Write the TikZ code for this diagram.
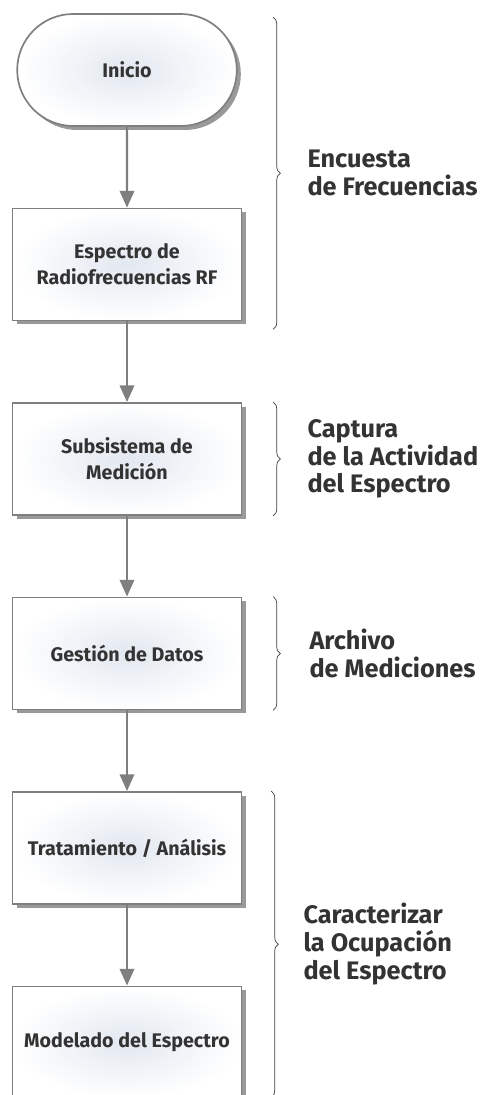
\documentclass[tikz,border=0pt]{standalone}
\usepackage{fontspec}
\setmainfont{Fira Sans}
\usetikzlibrary{positioning, shapes.misc, shadows, arrows.meta, decorations.pathreplacing}

\definecolor{textgray}{HTML}{333333}
\definecolor{linegray}{HTML}{7F7F7F}
\definecolor{fillblue}{HTML}{E2E8F0}

\begin{document}
\begin{tikzpicture}[
    node distance=2.02cm,
    block/.style={rectangle, draw=linegray, line width=1.2pt,
        minimum width=5.725cm, minimum height=2.8cm, align=center,
        font=\bfseries\fontsize{14}{18.5}\selectfont, text=textgray,
        shading=radial, inner color=fillblue, outer color=white,
        drop shadow={shadow xshift=0.1cm, shadow yshift=-0.1cm, fill=black!80}},
    startstop/.style={block, rounded rectangle},
    flow/.style={-{Triangle[width=0.36cm,length=0.42cm]}, line width=1.6pt, linegray},
    group_brace/.style={decorate, decoration={brace, amplitude=0.18cm}, draw=black!75, line width=0.5pt},
    group_label/.style={font=\bfseries\fontsize{18}{19.8}\selectfont, text=textgray,
        align=left, anchor=west, inner sep=0pt}
]

% Fix the page size
\useasboundingbox (0,0) rectangle (12.25,-27.375);

% Draw the flow steps
\node[startstop] (inicio) at (3.175,-1.75) {Inicio};
\node[block, below=of inicio] (espectro) {Espectro de\\Radiofrecuencias RF};
\node[block, below=of espectro] (medicion) {Subsistema de\\Medición};
\node[block, below=of medicion] (datos) {Gestión de Datos};
\node[block, below=of datos] (analisis) {Tratamiento / Análisis};
\node[block, below=of analisis] (modelado) {Modelado del Espectro};

% Draw the arrows between steps
\foreach \from/\to in {inicio/espectro, espectro/medicion, medicion/datos, datos/analisis, analisis/modelado}
    \draw[flow] (\from) -- (\to);

% Brace end points
\coordinate (b1_top) at ([xshift=0.77cm, yshift=-0.1cm]espectro.east |- inicio.north);
\coordinate (b1_bot) at ([xshift=0.77cm, yshift=-0.2cm]espectro.south east);
\coordinate (b2_top) at ([xshift=0.77cm]medicion.north east);
\coordinate (b2_bot) at ([xshift=0.77cm]medicion.south east);
\coordinate (b3_top) at ([xshift=0.77cm]datos.north east);
\coordinate (b3_bot) at ([xshift=0.77cm]datos.south east);
\coordinate (b4_top) at ([xshift=0.72cm]analisis.north east);
\coordinate (b4_bot) at ([xshift=0.72cm, yshift=0.05cm]modelado.south east);

% Draw the braces with their labels
\draw[group_brace] (b1_top) -- (b1_bot)
    node[group_label, midway, xshift=0.85cm] {Encuesta\\de Frecuencias};
\draw[group_brace] (b2_top) -- (b2_bot)
    node[group_label, midway, xshift=0.85cm] {Captura\\de la Actividad\\del Espectro};
\draw[group_brace] (b3_top) -- (b3_bot)
    node[group_label, midway, xshift=0.9cm] {Archivo\\de Mediciones};
\draw[group_brace] (b4_top) -- (b4_bot)
    node[group_label, midway, xshift=0.8cm] {Caracterizar\\la Ocupación\\del Espectro};

\end{tikzpicture}
\end{document}
